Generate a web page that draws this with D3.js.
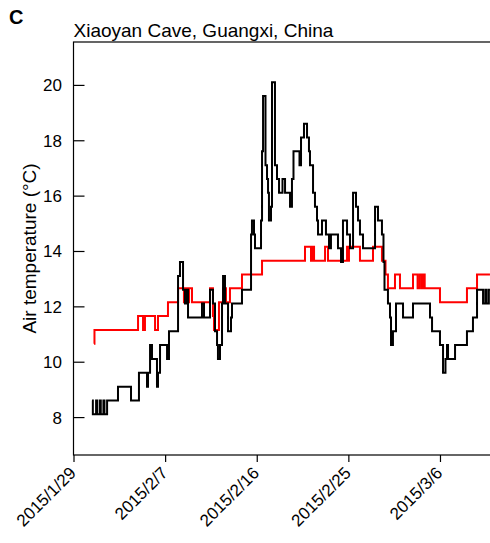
<!DOCTYPE html>
<html>
<head>
<meta charset="utf-8">
<script src="https://cdn.jsdelivr.net/npm/d3@7"></script>
<style>
  html, body { margin: 0; padding: 0; background: #fff; }
  svg { display: block; }
  text { font-family: "Liberation Sans", Arial, Helvetica, sans-serif; fill: #000; }
</style>
</head>
<body>
<svg id="chart" width="490" height="543"></svg>
<script>
// Hourly logger readings, Xiaoyan Cave. Times are days after 2015-01-29 00:00 (UTC);
// each reading holds until the next one (step-after).
const caveTimes = [
  1.82, 1.90, 2.22, 2.32, 2.58, 2.68, 2.94, 3.04, 3.30, 4.37, 5.65,
  6.43, 7.22, 7.32, 7.52, 7.71, 8.20, 8.30, 8.50, 9.19, 9.38, 10.27, 10.46, 10.76,
  10.95, 11.15, 11.25, 12.62, 12.82, 13.41, 13.70, 13.90, 14.10, 14.19, 14.39,
  14.59, 14.69, 14.88, 15.18, 15.47, 15.57, 16.55, 17.44, 17.53, 17.73, 17.83,
  18.42, 18.52, 18.62, 18.86, 19.01, 19.11, 19.20, 19.40, 19.50, 19.79, 19.99,
  20.19, 20.53, 20.78, 21.27, 21.46, 21.61, 22.20, 22.35, 22.64, 22.94, 23.13,
  23.23, 23.53, 23.72, 23.92, 24.02, 24.41, 24.80, 25.10, 25.29, 25.98, 26.28,
  26.47, 26.87, 27.16, 27.46, 27.75, 27.95, 28.14, 28.44, 29.62, 29.91, 30.30,
  30.45, 30.55, 30.89, 31.09, 31.19, 31.38, 31.68, 32.37, 33.35, 35.02, 35.22,
  36.00, 36.30, 36.54, 36.69, 36.79, 37.48, 38.65, 39.24, 39.64, 40.23, 40.45,
  40.58, 40.80, 40.91
];
const caveValues = [
  8.6, 8.1, 8.6, 8.1, 8.6, 8.1, 8.6, 8.1, 8.6, 9.1, 8.6,
  9.6, 9.1, 9.6, 10.6, 10.1, 9.1, 9.6, 10.6, 10.1, 11.1, 13.1, 13.6, 12.6,
  12.1, 12.6, 11.6, 12.1, 11.6, 12.6, 12.1, 11.1, 10.6, 10.1, 10.6,
  12.1, 13.1, 12.1, 11.1, 11.6, 12.1, 12.6, 14.6, 15.1, 14.6, 14.1,
  15.1, 17.6, 19.6, 17.1, 16.6, 16.1, 15.1, 15.6, 20.1, 17.1, 16.6,
  16.1, 16.6, 16.1, 15.6, 16.6, 17.6, 17.1, 18.1, 18.6, 18.1, 17.6,
  17.1, 16.1, 15.6, 15.1, 14.6, 15.1, 14.6, 14.1, 14.6, 14.1, 13.6,
  15.1, 14.6, 14.1, 16.1, 15.6, 15.1, 14.6, 14.1, 15.6, 15.1, 14.6,
  13.6, 12.6, 12.1, 11.6, 10.6, 11.1, 12.1, 11.6, 12.1, 11.6, 11.1,
  10.6, 9.6, 10.1, 10.6, 10.1, 10.6, 11.1, 11.6, 12.6, 12.1, 12.6,
  12.1, 12.6, 12.6
];

// Second logger (red trace)
const refTimes = [
  2.01, 2.06, 6.34, 6.83, 7.02, 8.01, 8.30, 9.28, 10.27, 10.85, 10.95, 11.25,
  11.35, 11.64, 13.41, 13.70, 13.80, 14.29, 14.69, 14.98, 15.37, 16.55, 18.52,
  22.74, 23.33, 23.48, 23.63, 24.71, 25.00, 26.87, 26.96, 27.06, 28.14, 29.42,
  30.30, 30.65, 30.89, 31.58, 32.07, 33.35, 33.80, 34.00, 34.20, 34.35, 34.50,
  36.00, 38.65, 39.64, 40.91
];
const refValues = [
  10.65, 11.15, 11.65, 11.15, 11.65, 11.15, 11.65, 12.15, 12.65, 12.15, 12.65, 12.15,
  12.65, 12.15, 12.65, 11.65, 11.15, 12.15, 12.65, 12.15, 12.65, 13.15, 13.65,
  14.15, 13.65, 14.15, 13.65, 14.15, 13.65, 14.15, 13.65, 14.15, 13.65, 14.15,
  13.65, 13.15, 12.65, 13.15, 12.65, 13.15, 12.65, 13.15, 12.65, 13.15, 12.65,
  12.15, 12.65, 13.15, 13.15
];

// Axis ticks
const xTickLabels = ["2015/1/29", "2015/2/7", "2015/2/16", "2015/2/25", "2015/3/6"];
const yTicks = [8, 10, 12, 14, 16, 18, 20];

const titleText = "Xiaoyan Cave, Guangxi, China";
const panelLetter = "C";
const yLabel = "Air temperature (\u00B0C)";

const DAY = 86400000;
const t0 = Date.UTC(2015, 0, 29);
const toDate = d => new Date(t0 + d * DAY);
const parseTick = d3.utcParse("%Y/%m/%d");

const svg = d3.select("#chart");
const margin = { left: 73.5, top: 42, bottom: 455 };

const x = d3.scaleUtc()
  .domain([toDate(0), toDate(41)])
  .range([margin.left, margin.left + 41 * 10.18]);
const y = d3.scaleLinear()
  .domain([6.63, 21.55])
  .range([margin.bottom, margin.top]);

// plot frame
svg.append("rect")
  .attr("x", margin.left).attr("y", margin.top)
  .attr("width", 500).attr("height", margin.bottom - margin.top)
  .attr("fill", "none").attr("stroke", "#000").attr("stroke-width", 1.2);

// y axis, ticks point into the plot
const yAxis = svg.append("g")
  .attr("transform", `translate(${margin.left},0)`)
  .call(d3.axisRight(y).tickValues(yTicks).tickSize(11).tickPadding(0).tickFormat(d3.format("d")));
yAxis.select(".domain").remove();
yAxis.selectAll(".tick line").attr("stroke-width", 1.2);
yAxis.selectAll(".tick text")
  .attr("x", -11.5).attr("text-anchor", "end")
  .attr("dy", "0.35em").style("font-size", "17px")
  .style("font-family", "'Liberation Sans', Arial, sans-serif");

// x axis, ticks below the frame
const xTickDates = xTickLabels.map(s => parseTick(s));
const xAxis = svg.append("g")
  .attr("transform", `translate(0,${margin.bottom})`)
  .call(d3.axisBottom(x).tickValues(xTickDates).tickSize(7).tickFormat(d3.utcFormat("%Y/%-m/%-d")));
xAxis.select(".domain").remove();
xAxis.selectAll(".tick line").attr("stroke-width", 1.2);
xAxis.selectAll(".tick text")
  .attr("text-anchor", "end")
  .attr("dy", null).attr("y", 0)
  .attr("transform", "translate(3,19) rotate(-45)")
  .style("font-size", "17px")
  .style("font-family", "'Liberation Sans', Arial, sans-serif");

// series
const stepLine = d3.line()
  .x(d => x(toDate(d[0])))
  .y(d => y(d[1]))
  .curve(d3.curveStepAfter);

const refSeries = d3.zip(refTimes, refValues);
const caveSeries = d3.zip(caveTimes, caveValues);

svg.append("path")
  .datum(refSeries)
  .attr("d", stepLine)
  .attr("fill", "none").attr("stroke", "#ff0000").attr("stroke-width", 2);

svg.append("path")
  .datum(caveSeries)
  .attr("d", stepLine)
  .attr("fill", "none").attr("stroke", "#000").attr("stroke-width", 2);

// titles
svg.append("text")
  .attr("x", margin.left).attr("y", 37)
  .style("font-size", "19px")
  .text(titleText);

svg.append("text")
  .attr("x", 9).attr("y", 24)
  .style("font-size", "20px").style("font-weight", "bold")
  .text(panelLetter);

svg.append("text")
  .attr("transform", `translate(36,${(margin.top + margin.bottom) / 2}) rotate(-90)`)
  .attr("text-anchor", "middle")
  .style("font-size", "19px")
  .text(yLabel);
</script>
</body>
</html>
